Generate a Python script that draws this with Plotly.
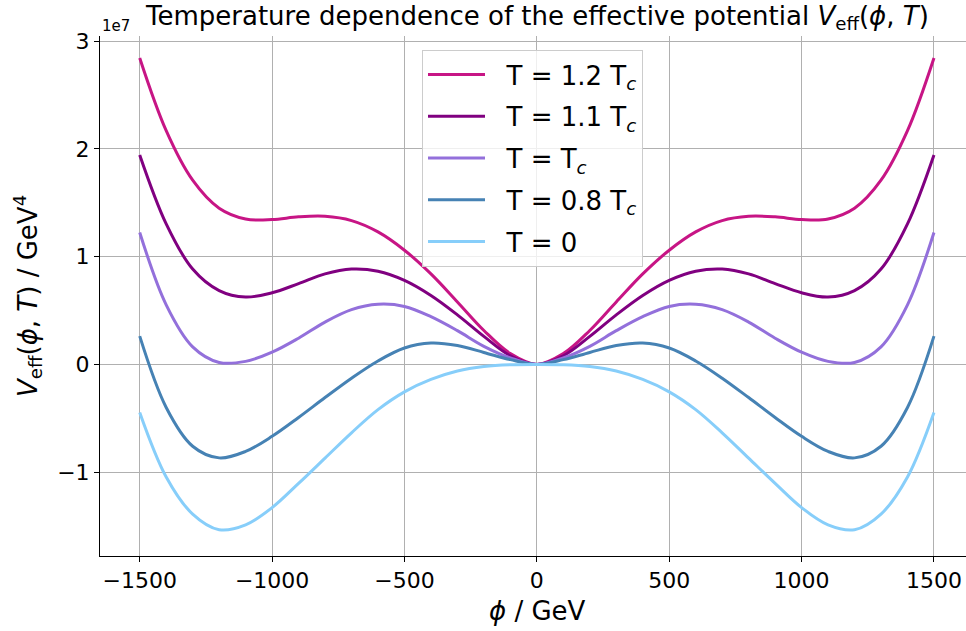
import plotly.graph_objects as go

# field values phi (GeV)
phi = [-1500, -1400, -1300, -1200, -1100, -1000, -900, -800, -700, -600, -500, -400, -300, -200, -100,
       0, 100, 200, 300, 400, 500, 600, 700, 800, 900, 1000, 1100, 1200, 1300, 1400, 1500]

# V_eff in units of 1e7 GeV^4
v_12tc = [2.845, 2.17, 1.71, 1.45, 1.35, 1.345, 1.37, 1.375, 1.335, 1.23, 1.06, 0.84, 0.58, 0.315, 0.1,
          0.0, 0.1, 0.315, 0.58, 0.84, 1.06, 1.23, 1.335, 1.375, 1.37, 1.345, 1.35, 1.45, 1.71, 2.17, 2.845]
v_11tc = [1.945, 1.305, 0.885, 0.685, 0.625, 0.665, 0.75, 0.84, 0.885, 0.865, 0.78, 0.64, 0.46, 0.26, 0.08,
          0.0, 0.08, 0.26, 0.46, 0.64, 0.78, 0.865, 0.885, 0.84, 0.75, 0.665, 0.625, 0.685, 0.885, 1.305, 1.945]
v_tc = [1.225, 0.553, 0.163, 0.018, 0.028, 0.113, 0.243, 0.393, 0.508, 0.558, 0.538, 0.443, 0.313, 0.168, 0.06,
        0.0, 0.06, 0.168, 0.313, 0.443, 0.538, 0.558, 0.508, 0.393, 0.243, 0.113, 0.028, 0.018, 0.163, 0.553, 1.225]
v_08tc = [0.262, -0.40, -0.76, -0.868, -0.808, -0.668, -0.493, -0.308, -0.128, 0.032, 0.152, 0.198, 0.175, 0.111, 0.044,
          0.0, 0.044, 0.111, 0.175, 0.198, 0.152, 0.032, -0.128, -0.308, -0.493, -0.668, -0.808, -0.868, -0.76, -0.40, 0.262]
v_t0 = [-0.446, -1.045, -1.39, -1.535, -1.49, -1.33, -1.105, -0.87, -0.635, -0.42, -0.255, -0.14, -0.062, -0.02, -0.003,
        0.0, -0.003, -0.02, -0.062, -0.14, -0.255, -0.42, -0.635, -0.87, -1.105, -1.33, -1.49, -1.535, -1.39, -1.045, -0.446]

NB = "\u00a0\u00a0"
names = [NB + "T = 1.2 T<sub><i>c</i></sub>", NB + "T = 1.1 T<sub><i>c</i></sub>", NB + "T = T<sub><i>c</i></sub>",
         NB + "T = 0.8 T<sub><i>c</i></sub>", NB + "T = 0"]
colors = ["#C71585", "#800080", "#9370DB", "#4682B4", "#87CEFA"]
series = [v_12tc, v_11tc, v_tc, v_08tc, v_t0]

xticks = [-1500, -1000, -500, 0, 500, 1000, 1500]
yticks = [-1, 0, 1, 2, 3]
SCALE = 1e7

FONT = "DejaVu Sans"

fig = go.Figure()
for i, (nm, col, vals) in enumerate(zip(names, colors, series)):
    fig.add_trace(go.Scatter(
        x=phi, y=[v * SCALE for v in vals], mode="lines", name=nm,
        line=dict(color=col, width=3, shape="spline", smoothing=1.0),
        legendgroup=f"g{i}",
    ))

W, H = 966, 631
ML, MR, MT, MB = 100, 0, 36, 75
pw = W - ML - MR
ph = H - MT - MB

fig.update_layout(
    width=W, height=H,
    margin=dict(l=ML, r=MR, t=MT, b=MB, pad=0),
    paper_bgcolor="white", plot_bgcolor="white",
    font=dict(family=FONT, color="black"),
    showlegend=True,
    legend=dict(
        x=(422 - ML) / pw, y=1 - (50 - MT) / ph, xanchor="left", yanchor="top",
        bgcolor="rgba(255,255,255,0.8)", bordercolor="#cccccc", borderwidth=1,
        font=dict(family=FONT, size=26, color="black"),
        tracegroupgap=5, itemwidth=57,
    ),
    xaxis=dict(
        range=[-1650, 1621], tickmode="array", tickvals=xticks,
        ticktext=[str(t).replace("-", "\u2212") for t in xticks],
        showgrid=True, gridcolor="#b0b0b0", gridwidth=1,
        zeroline=False, showline=True, linecolor="black", linewidth=1,
        ticks="outside", ticklen=5, tickcolor="black",
        tickfont=dict(family=FONT, size=22), ticklabelstandoff=0,
    ),
    yaxis=dict(
        range=[-1.779 * SCALE, 3.049 * SCALE], tickmode="array",
        tickvals=[t * SCALE for t in yticks],
        ticktext=[str(t).replace("-", "\u2212") for t in yticks],
        showgrid=True, gridcolor="#b0b0b0", gridwidth=1,
        zeroline=False, showline=True, linecolor="black", linewidth=1,
        ticks="outside", ticklen=5, tickcolor="black",
        tickfont=dict(family=FONT, size=22), ticklabelstandoff=0,
    ),
)

def px_x(p):
    return (p - ML) / pw

def px_y(p):
    return 1 - (p - MT) / ph

annotations = [
    dict(text="Temperature dependence of the effective potential <i>V</i><sub>eff</sub>(<i>ϕ</i>, <i>T</i>)",
         x=px_x(537), y=px_y(18), xref="paper", yref="paper", xanchor="center", yanchor="middle",
         showarrow=False, font=dict(family=FONT, size=26)),
    dict(text="1e7", x=px_x(100), y=px_y(26), xref="paper", yref="paper", xanchor="left", yanchor="middle",
         showarrow=False, font=dict(family=FONT, size=15)),
    dict(text="<i>ϕ</i> / GeV", x=px_x(537), y=px_y(611), xref="paper", yref="paper",
         xanchor="center", yanchor="middle", showarrow=False, font=dict(family=FONT, size=26)),
    dict(text="<i>V</i><sub>eff</sub>(<i>ϕ</i>, <i>T</i>) / GeV<sup>4</sup>", x=px_x(27), y=px_y(296),
         xref="paper", yref="paper", xanchor="center", yanchor="middle", textangle=-90,
         showarrow=False, font=dict(family=FONT, size=26)),
]
fig.update_layout(annotations=annotations)

fig.write_html("out.html")
